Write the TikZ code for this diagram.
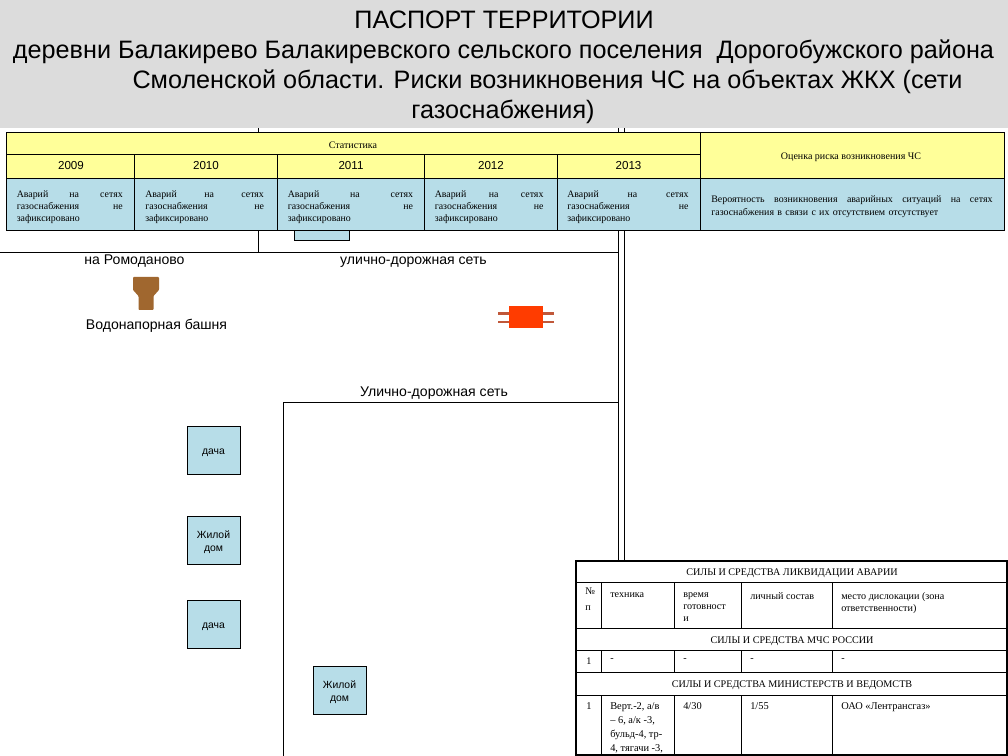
\documentclass[tikz,border=0pt]{standalone}
\usepackage{fontspec}
\setmainfont{Liberation Sans}
\newfontfamily\serifcell{Liberation Serif}
\definecolor{cyell}{HTML}{FFFF99}
\definecolor{cblue}{HTML}{B7DDE8}
\definecolor{cband}{HTML}{DCDCDC}
\definecolor{ctower}{HTML}{A0672F}
\definecolor{cred}{HTML}{FF3C00}
\definecolor{cpipe}{HTML}{C0583A}
\newcommand{\av}{Аварий\hfill на\hfill сетях\\газоснабжения\hfill не\\зафиксировано}
\tikzset{
  x=0.75pt,y=-0.75pt,
  titletext/.style={font=\fontsize{18.9}{22}\selectfont,inner sep=0pt,anchor=center},
  maptext/.style={font=\fontsize{10.55}{12}\selectfont,inner sep=0pt,anchor=center},
  site/.style={draw=black,line width=0.5pt,fill=cblue,minimum width=39.75pt,minimum height=36pt,inner sep=0pt},
  sitetext/.style={inner sep=0pt,align=center,yshift=-1.8pt,font=\fontsize{7.8}{10}\selectfont},
  net/.style={line width=0.75pt,black},
  yellowcell/.style={fill=cyell,draw=black,line width=0.75pt},
  bluecell/.style={fill=cblue,draw=black,line width=0.75pt},
  captext/.style={inner sep=0pt,font=\serifcell\fontsize{7.5}{9}\selectfont,anchor=center},
  yeartext/.style={inner sep=0pt,font=\fontsize{8.7}{10}\selectfont,anchor=center},
  bodytext/.style={inner sep=0pt,anchor=north west,align=left,font=\serifcell\fontsize{7.4}{8.9}\selectfont},
  gridline/.style={line width=0.75pt,black},
  tcap/.style={inner sep=0pt,anchor=center,font=\serifcell\fontsize{7.6}{9}\selectfont},
  tbody/.style={inner sep=0pt,anchor=north west,align=left,font=\serifcell\fontsize{7.6}{9}\selectfont},
  tbig/.style={tbody,font=\serifcell\fontsize{7.8}{10.5}\selectfont},
}
\begin{document}
\begin{tikzpicture}
\useasboundingbox (0,0) rectangle (1008,756);
\fill[white] (0,0) rectangle (1008,756);
% road lines and hidden box
\draw[net] (258,128) -- (258,252);
\draw[net] (0,252.5) -- (618,252.5);
\draw[net] (618.5,128) -- (618.5,560);
\draw[net] (624,128) -- (624,560);
\draw[net] (618,402.5) -- (283,402.5) -- (283,756);
\filldraw[fill=cblue,draw=black,line width=0.5pt] (294,195) rectangle (349,240.5);
% title band
\fill[cband] (0,0) rectangle (1008,128);
\node[titletext] (t1) at (504,20) {ПАСПОРТ ТЕРРИТОРИИ};
\node[titletext] (t2) at (503.5,51.5) {деревни Балакирево Балакиревского сельского поселения\ \ Дорогобужского района};
\node[titletext] (t3) at (547.5,81.5) {Смоленской области. Риски возникновения ЧС на объектах ЖКХ (сети};
\node[titletext] (t4) at (503,111.5) {газоснабжения)};
% statistics table
\draw[yellowcell] (6.5,133) rectangle (700,154.5);
\draw[yellowcell] (700,133) rectangle (1004,178.5);
\foreach \a/\b in {6.5/134.5,134.5/277.5,277.5/424.5,424.5/557,557/700}{
  \draw[yellowcell] (\a,154.5) rectangle (\b,178.5);
  \draw[bluecell] (\a,178.5) rectangle (\b,230.5);
}
\draw[bluecell] (700,178.5) rectangle (1004,230.5);
\node[captext] (stat) at (353,145) {Статистика};
\node[captext] (risk) at (851,157.5) {Оценка риска возникновения ЧС};
\node[yeartext] (y09) at (71,166) {2009};
\node[yeartext] (y10) at (206,166) {2010};
\node[yeartext] (y11) at (351,166) {2011};
\node[yeartext] (y12) at (491,166) {2012};
\node[yeartext] (y13) at (628.5,166) {2013};
\node[bodytext,text width=79.5pt] (b09) at (16.5,190.5) {\av};
\node[bodytext,text width=89pt] (b10) at (145,190.5) {\av};
\node[bodytext,text width=94pt] (b11) at (287.5,190.5) {\av};
\node[bodytext,text width=81.5pt] (b12) at (434.5,190.5) {\av};
\node[bodytext,text width=91pt] (b13) at (567,190.5) {\av};
\node[bodytext,text width=211pt,font=\serifcell\fontsize{7.45}{9.75}\selectfont] (brisk) at (711,195.5) {Вероятность\hfill возникновения\hfill аварийных\hfill ситуаций\hfill на\hfill сетях\\газоснабжения в связи с их отсутствием отсутствует};
% map labels
\node[maptext] (road1) at (134.5,261.5) {на Ромоданово};
\node[maptext] (road2) at (413.5,262.5) {улично-дорожная сеть};
\node[maptext] (towerlabel) at (156.5,326) {Водонапорная башня};
\node[maptext] (road3) at (434,393) {Улично-дорожная сеть};
% tower
\fill[ctower,rounded corners=0.6pt] (133,277) -- (159,277) -- (159,290) -- (153.5,296) -- (153.5,310) -- (138.5,310) -- (138.5,296) -- (133,290) -- cycle;
% red object
\draw[cpipe,line width=1.6pt] (498,313.5) -- (554,313.5) (498,322) -- (554,322);
\fill[cred] (509,306) rectangle (543,328);
% buildings
\node[site,label={[sitetext]center:дача}] (d1) at (213.5,450) {};
\node[site,label={[sitetext]center:{Жилой\\дом}}] (h1) at (213.5,540) {};
\node[site,label={[sitetext]center:дача}] (d2) at (213.5,624) {};
\node[site,label={[sitetext]center:{Жилой\\дом}}] (h2) at (339.5,690) {};
% forces table
\fill[white] (576,561) rectangle (1007,755);
\draw[gridline] (576,582.5) -- (1007,582.5)
  (576,628.5) -- (1007,628.5)
  (576,650.5) -- (1007,650.5)
  (576,672.5) -- (1007,672.5)
  (576,695.5) -- (1007,695.5);
\foreach \c in {601,674,741,832}{
  \draw[gridline] (\c,582.5) -- (\c,628.5) (\c,650.5) -- (\c,672.5) (\c,695.5) -- (\c,755);
}
\draw[black,line width=1.5pt] (576,561) rectangle (1007,755);
\node[tcap] (f1) at (792,573) {СИЛЫ И СРЕДСТВА ЛИКВИДАЦИИ АВАРИИ};
\node[tcap] (f2) at (792,641) {СИЛЫ И СРЕДСТВА МЧС РОССИИ};
\node[tcap] (f3) at (792,685) {СИЛЫ И СРЕДСТВА МИНИСТЕРСТВ И ВЕДОМСТВ};
\node[tbody,font=\serifcell\fontsize{7.6}{12}\selectfont] (h0) at (585,588) {№\\п};
\node[tbody] (ha) at (610,592) {техника};
\node[tbody] (hb) at (683,592) {время\\готовност\\и};
\node[tbody] (hc) at (750,592) {личный состав};
\node[tbody] (hd) at (841,592) {место дислокации (зона\\ответственности)};
\node[tbody] (r10) at (586,658) {1};
\node[tbody] (r1a) at (610,658) {-};
\node[tbody] (r1b) at (683,658) {-};
\node[tbody] (r1c) at (750,658) {-};
\node[tbody] (r1d) at (841,658) {-};
\node[tbig] (r20) at (586,702) {1};
\node[tbig] (r2a) at (610,702) {Верт.-2, а/в\\– 6, а/к -3,\\бульд-4, тр-\\4, тягачи -3,};
\node[tbig] (r2b) at (683,702) {4/30};
\node[tbig] (r2c) at (750,702) {1/55};
\node[tbig] (r2d) at (841,702) {ОАО «Лентрансгаз»};
\end{tikzpicture}
\end{document}
